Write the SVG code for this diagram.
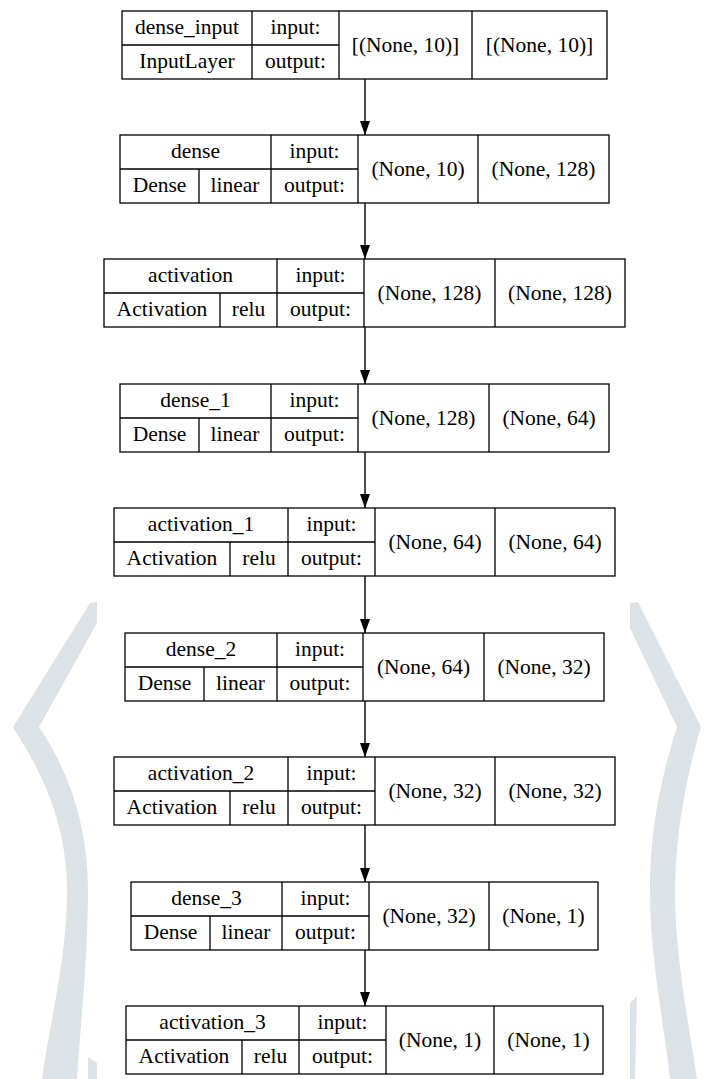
<svg xmlns="http://www.w3.org/2000/svg" width="715" height="1079" viewBox="0 0 715 1079">
<style>
.bx{fill:#fff;stroke:#000;stroke-width:1.3}
.ln{stroke:#000;stroke-width:1.3;fill:none}
.wm{fill:#dce3e7;stroke:none}
.tx text{font-size:21.5px;fill:#000;text-anchor:middle}
.cn{stroke:#000;stroke-width:1.4;fill:none}
</style>
<defs>
<marker id="ah" markerUnits="userSpaceOnUse" markerWidth="14" markerHeight="10" refX="14" refY="5" orient="auto">
<path d="M0,0 L14,5 L0,10 Z" fill="#000"/>
</marker>
</defs>
<rect x="0" y="0" width="715" height="1079" fill="#fff"/>
<g id="watermark">
<path class="wm" d="M90,603 L97,602 L97,623 L39,727 C65,765 88,820 88,890 C88,960 80,1030 77,1079 L42,1079 C50,1020 67,960 67,890 C67,820 40,770 13,727 Z"/>
<path class="wm" d="M88,1057 L97,1063 L97,1079 L88,1079 Z"/>
<path class="wm" d="M630,603 L638,602 L701,727 C690,765 676,820 675,890 C675,960 690,1030 697,1079 L670,1079 C665,1030 650,960 650,890 C650,820 665,765 677,727 L630,628 Z"/>
<path class="wm" d="M630,1003 L637,996 L635,1079 L630,1079 Z"/>
</g>
<g id="connectors">
<line class="cn" x1="365" y1="79" x2="365" y2="135" marker-end="url(#ah)"/>
<line class="cn" x1="365" y1="203" x2="365" y2="259" marker-end="url(#ah)"/>
<line class="cn" x1="365" y1="327" x2="365" y2="384" marker-end="url(#ah)"/>
<line class="cn" x1="365" y1="452" x2="365" y2="508" marker-end="url(#ah)"/>
<line class="cn" x1="365" y1="576" x2="365" y2="633" marker-end="url(#ah)"/>
<line class="cn" x1="365" y1="701" x2="365" y2="757" marker-end="url(#ah)"/>
<line class="cn" x1="365" y1="825" x2="365" y2="882" marker-end="url(#ah)"/>
<line class="cn" x1="365" y1="950" x2="365" y2="1006" marker-end="url(#ah)"/>
</g>
<g class="tx" font-family="Liberation Serif, DejaVu Serif, serif">
<g id="dense_input">
<rect class="bx" x="122" y="11" width="485" height="68"/>
<path class="ln" d="M252,11V79 M339,11V79 M472,11V79 M122,45H339"/>
<text x="187" y="34">dense_input</text>
<text x="295.5" y="34">input:</text>
<text x="187" y="68">InputLayer</text>
<text x="295.5" y="68">output:</text>
<text x="405.5" y="51.5">[(None, 10)]</text>
<text x="539.5" y="51.5">[(None, 10)]</text>
</g>
<g id="dense">
<rect class="bx" x="120" y="135" width="489" height="68"/>
<path class="ln" d="M271,135V203 M358,135V203 M478,135V203 M199,169V203 M120,169H358"/>
<text x="195.5" y="158">dense</text>
<text x="314.5" y="158">input:</text>
<text x="159.5" y="192">Dense</text>
<text x="235" y="192">linear</text>
<text x="314.5" y="192">output:</text>
<text x="418" y="175.5">(None, 10)</text>
<text x="543.5" y="175.5">(None, 128)</text>
</g>
<g id="activation">
<rect class="bx" x="104" y="259" width="521" height="68"/>
<path class="ln" d="M277,259V327 M364,259V327 M495,259V327 M220,293V327 M104,293H364"/>
<text x="190.5" y="282">activation</text>
<text x="320.5" y="282">input:</text>
<text x="162" y="316">Activation</text>
<text x="248.5" y="316">relu</text>
<text x="320.5" y="316">output:</text>
<text x="429.5" y="299.5">(None, 128)</text>
<text x="560" y="299.5">(None, 128)</text>
</g>
<g id="dense_1">
<rect class="bx" x="120" y="384" width="489" height="68"/>
<path class="ln" d="M271,384V452 M358,384V452 M489,384V452 M199,418V452 M120,418H358"/>
<text x="195.5" y="407">dense_1</text>
<text x="314.5" y="407">input:</text>
<text x="159.5" y="441">Dense</text>
<text x="235" y="441">linear</text>
<text x="314.5" y="441">output:</text>
<text x="423.5" y="424.5">(None, 128)</text>
<text x="549" y="424.5">(None, 64)</text>
</g>
<g id="activation_1">
<rect class="bx" x="114" y="508" width="501" height="68"/>
<path class="ln" d="M288,508V576 M375,508V576 M495,508V576 M230,542V576 M114,542H375"/>
<text x="201" y="531">activation_1</text>
<text x="331.5" y="531">input:</text>
<text x="172" y="565">Activation</text>
<text x="259" y="565">relu</text>
<text x="331.5" y="565">output:</text>
<text x="435" y="548.5">(None, 64)</text>
<text x="555" y="548.5">(None, 64)</text>
</g>
<g id="dense_2">
<rect class="bx" x="125" y="633" width="479" height="68"/>
<path class="ln" d="M277,633V701 M363,633V701 M484,633V701 M204,667V701 M125,667H363"/>
<text x="201" y="656">dense_2</text>
<text x="320" y="656">input:</text>
<text x="164.5" y="690">Dense</text>
<text x="240.5" y="690">linear</text>
<text x="320" y="690">output:</text>
<text x="423.5" y="673.5">(None, 64)</text>
<text x="544" y="673.5">(None, 32)</text>
</g>
<g id="activation_2">
<rect class="bx" x="114" y="757" width="501" height="68"/>
<path class="ln" d="M288,757V825 M375,757V825 M495,757V825 M230,791V825 M114,791H375"/>
<text x="201" y="780">activation_2</text>
<text x="331.5" y="780">input:</text>
<text x="172" y="814">Activation</text>
<text x="259" y="814">relu</text>
<text x="331.5" y="814">output:</text>
<text x="435" y="797.5">(None, 32)</text>
<text x="555" y="797.5">(None, 32)</text>
</g>
<g id="dense_3">
<rect class="bx" x="131" y="882" width="467" height="68"/>
<path class="ln" d="M282,882V950 M369,882V950 M489,882V950 M210,916V950 M131,916H369"/>
<text x="206.5" y="905">dense_3</text>
<text x="325.5" y="905">input:</text>
<text x="170.5" y="939">Dense</text>
<text x="246" y="939">linear</text>
<text x="325.5" y="939">output:</text>
<text x="429" y="922.5">(None, 32)</text>
<text x="543.5" y="922.5">(None, 1)</text>
</g>
<g id="activation_3">
<rect class="bx" x="126" y="1006" width="477" height="68"/>
<path class="ln" d="M299,1006V1074 M386,1006V1074 M494,1006V1074 M242,1040V1074 M126,1040H386"/>
<text x="212.5" y="1029">activation_3</text>
<text x="342.5" y="1029">input:</text>
<text x="184" y="1063">Activation</text>
<text x="270.5" y="1063">relu</text>
<text x="342.5" y="1063">output:</text>
<text x="440" y="1046.5">(None, 1)</text>
<text x="548.5" y="1046.5">(None, 1)</text>
</g>
</g>
</svg>
